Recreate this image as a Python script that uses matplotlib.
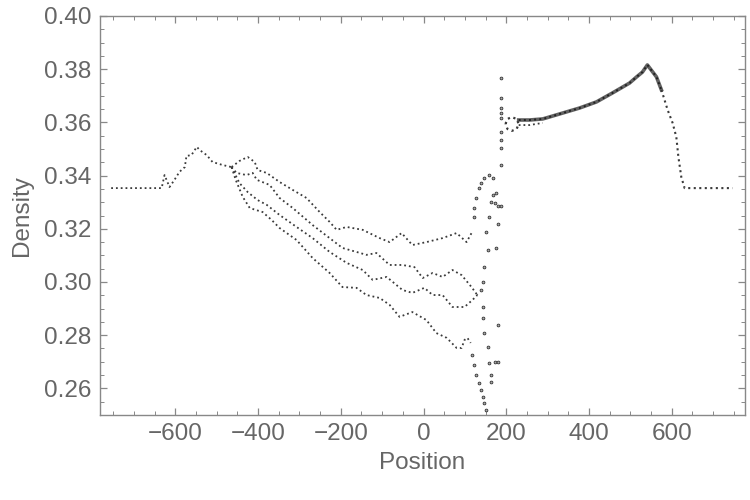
import matplotlib
matplotlib.use("Agg")
import matplotlib.pyplot as plt
from matplotlib.ticker import MultipleLocator

plt.rcParams['font.family'] = ['Liberation Sans', 'DejaVu Sans']

# left part, shared by all snapshots
left_x = [-755, -633, -626, -614, -602, -590, -577, -573, -561, -548, -541,
          -524, -510, -486, -464]
left_y = [0.3353, 0.3353, 0.3402, 0.3357, 0.3384, 0.3414, 0.3432, 0.3474,
          0.3477, 0.3508, 0.3496, 0.3477, 0.3451, 0.3440, 0.3432]

# the four snapshots in the middle
c1_x = [-464, -445, -425, -408, -401, -379, -348, -316, -283, -251, -227,
        -210, -186, -147, -106, -82, -53, -27, 7, 46, 80, 104, 116]
c1_y = [0.3432, 0.3455, 0.3470, 0.3451, 0.3421, 0.3410, 0.3376, 0.3346,
        0.3316, 0.3263, 0.3226, 0.3196, 0.3207, 0.3196, 0.3165, 0.3150,
        0.3184, 0.3139, 0.3150, 0.3165, 0.3184, 0.3150, 0.3184]

c2_x = [-464, -452, -428, -413, -403, -372, -348, -316, -268, -227, -196,
        -162, -138, -114, -82, -51, -22, -2, 22, 46, 70, 92, 116, 130]
c2_y = [0.3432, 0.3410, 0.3402, 0.3410, 0.3384, 0.3365, 0.3316, 0.3278,
        0.3214, 0.3165, 0.3128, 0.3113, 0.3102, 0.3109, 0.3064, 0.3064,
        0.3056, 0.3015, 0.3034, 0.3019, 0.3045, 0.3026, 0.2981, 0.2951]

c3_x = [-464, -445, -425, -401, -379, -348, -307, -268, -227, -186, -147,
        -123, -89, -51, -27, 2, 22, 46, 70, 99, 118, 130, 135]
c3_y = [0.3432, 0.3372, 0.3338, 0.3308, 0.3290, 0.3252, 0.3207, 0.3165,
        0.3113, 0.3072, 0.3045, 0.3008, 0.3019, 0.2970, 0.2959, 0.2978,
        0.2951, 0.2951, 0.2906, 0.2906, 0.2932, 0.2951, 0.2944]

c4_x = [-464, -454, -437, -420, -389, -367, -348, -307, -268, -227, -196,
        -162, -138, -106, -82, -58, -27, 7, 31, 56, 80, 92, 99, 106, 114]
c4_y = [0.3432, 0.3384, 0.3320, 0.3278, 0.3263, 0.3233, 0.3203, 0.3158,
        0.3090, 0.3034, 0.2981, 0.2978, 0.2951, 0.2940, 0.2914, 0.2869,
        0.2887, 0.2857, 0.2808, 0.2790, 0.2752, 0.2752, 0.2782, 0.2790,
        0.2771]

# sparse points across the contact
jump_x = [123, 123, 128, 133, 140, 147, 159, 169,
          167, 176, 172, 164, 179, 188, 159, 179, 152, 176, 155, 147, 143,
          140, 143, 143, 179, 145, 155, 159, 172, 181, 164, 164,
          116, 123, 128, 133, 138, 143, 145, 152,
          188, 188, 188, 188, 188, 188, 188, 188, 188]
jump_y = [0.3244, 0.3278, 0.3316, 0.3353, 0.3372, 0.3391, 0.3402, 0.3391,
          0.3327, 0.3335, 0.3297, 0.3301, 0.3286, 0.3286, 0.3244, 0.3218,
          0.3188, 0.3128, 0.3120, 0.3056, 0.3000, 0.2970, 0.2906, 0.2865,
          0.2838, 0.2808, 0.2756, 0.2696, 0.2699, 0.2699, 0.2650, 0.2624,
          0.2726, 0.2688, 0.2650, 0.2620, 0.2594, 0.2568, 0.2545, 0.2519,
          0.3767, 0.3692, 0.3654, 0.3635, 0.3617, 0.3564, 0.3534, 0.3504,
          0.3440]

# little loop just right of the contact
loop_x = [198, 203, 213, 225, 230, 225, 213, 203, 198]
loop_y = [0.3594, 0.3613, 0.3620, 0.3613, 0.3594, 0.3575, 0.3568, 0.3575,
          0.3594]

# right part, shared by all snapshots: rising band, then the drop and flat
right_x = [230, 256, 288, 297, 377, 418, 457, 498, 515, 529, 541, 563, 575]
right_y = [0.3609, 0.3609, 0.3613, 0.3617, 0.3654, 0.3677, 0.3711, 0.3748,
           0.3771, 0.3789, 0.3816, 0.3771, 0.3722]
drop_x = [575, 590, 602, 611, 616, 623, 631, 747]
drop_y = [0.3722, 0.3647, 0.3598, 0.3545, 0.3470, 0.3395, 0.3353, 0.3353]
right2_x = [230, 256, 288]
right2_y = [0.3590, 0.3590, 0.3598]

ink = '#3a3a3a'
dot = dict(color=ink, linestyle=':', linewidth=1.3)

fig = plt.figure(figsize=(7.5, 5), dpi=100)
ax = fig.add_axes([100 / 750, 1 - 415 / 500, 645 / 750, 399 / 500])

ax.plot(left_x, left_y, **dot)
for xs, ys in [(c1_x, c1_y), (c2_x, c2_y), (c3_x, c3_y), (c4_x, c4_y)]:
    ax.plot(xs, ys, **dot)
ax.plot(loop_x, loop_y, color=ink, linestyle=':', linewidth=1.6)
ax.plot(right_x, right_y, color=ink, linewidth=2.6, alpha=0.8)
ax.plot(right_x, right_y, color='#222222', linestyle=':', linewidth=1.4)
ax.plot(drop_x, drop_y, color=ink, linestyle=':', linewidth=1.5)
ax.plot(right2_x, right2_y, **dot)
ax.scatter(jump_x, jump_y, s=4, facecolor='#aaaaaa', edgecolor='#333333',
           linewidth=0.6, zorder=3)

ax.set_xlim(-782, 777)
ax.set_ylim(0.25, 0.40)
ax.xaxis.set_major_locator(MultipleLocator(200))
ax.xaxis.set_minor_locator(MultipleLocator(50))
ax.yaxis.set_major_locator(MultipleLocator(0.02))
ax.yaxis.set_minor_locator(MultipleLocator(0.005))
ax.yaxis.set_major_formatter(plt.FuncFormatter(lambda v, p: f'{v:.2f}'))

frame = '#888888'
for s in ax.spines.values():
    s.set_color(frame)
    s.set_linewidth(1.0)
ax.tick_params(which='both', direction='in', top=True, right=True,
               color=frame, labelcolor='#666666', labelsize=17.5)
ax.tick_params(which='major', length=5, width=0.9, pad=6)
ax.tick_params(which='minor', length=3, width=0.7)

ax.set_xlabel('Position', fontsize=17.5, color='#666666', labelpad=5)
ax.set_ylabel('Density', fontsize=17.5, color='#666666', labelpad=8)

fig.savefig('out.png', dpi=100)
